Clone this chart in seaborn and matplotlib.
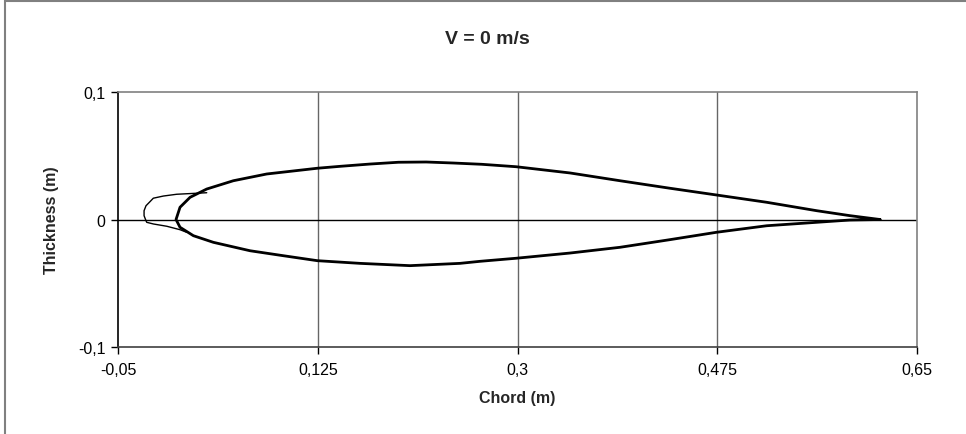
import numpy as np
import pandas as pd
import matplotlib
matplotlib.use("Agg")
import matplotlib.pyplot as plt
import seaborn as sns
from matplotlib.patches import Rectangle

# ==================================
# 1. Data
# ==================================

upper_x = [0.0008, 0.0043, 0.0131, 0.0277, 0.0510, 0.0803, 0.1246, 0.1445,
           0.1708, 0.1956, 0.2200, 0.2438, 0.2686, 0.2987, 0.3460, 0.3898,
           0.4336, 0.4745, 0.5183, 0.5621, 0.5913, 0.6176]
upper_y = [0.0, 0.0096, 0.0174, 0.0239, 0.0304, 0.0357, 0.0402, 0.0417,
           0.0435, 0.0449, 0.0451, 0.0443, 0.0433, 0.0414, 0.0365, 0.0304,
           0.0245, 0.0192, 0.0135, 0.0069, 0.0030, 0.0]

lower_x = [0.0008, 0.0043, 0.0160, 0.0335, 0.0656, 0.0948, 0.1246, 0.1620,
           0.2058, 0.2496, 0.2671, 0.2987, 0.3460, 0.3898, 0.4336, 0.4745,
           0.5183, 0.5621, 0.5913, 0.6176]
lower_y = [0.0, -0.0061, -0.0127, -0.0179, -0.0245, -0.0284, -0.0323, -0.0344,
           -0.0362, -0.0344, -0.0328, -0.0304, -0.0263, -0.0218, -0.0158, -0.0100,
           -0.0049, -0.0022, -0.0004, 0.0]

# thin leading-edge trace
nose_x = [0.0277, 0.0014, -0.0103, -0.0191, -0.0220, -0.0255, -0.0272, -0.0272,
          -0.0261, -0.0249, -0.0191, -0.0073, 0.0043, 0.0100]
nose_y = [0.0210, 0.0198, 0.0184, 0.0167, 0.0140, 0.0108, 0.0069, 0.0030,
          0.0004, -0.0022, -0.0035, -0.0053, -0.0080, -0.0100]

x_ticks = [-0.05, 0.125, 0.3, 0.475, 0.65]
x_tick_labels = ["-0,05", "0,125", "0,3", "0,475", "0,65"]
y_ticks = [-0.1, 0, 0.1]
y_tick_labels = ["-0,1", "0", "0,1"]

profile = pd.DataFrame({
    "chord": upper_x[::-1] + lower_x[1:],
    "thickness": upper_y[::-1] + lower_y[1:],
})
nose = pd.DataFrame({"chord": nose_x, "thickness": nose_y})

# ==================================
# 2. Plot
# ==================================

sns.set_style("white")
plt.rcParams["font.family"] = ["Liberation Sans", "DejaVu Sans"]

fig = plt.figure(figsize=(9.66, 4.35), dpi=100)
ax = fig.add_axes([0.1222, 0.2, 0.8271, 0.5862])

sns.lineplot(data=nose, x="chord", y="thickness", sort=False,
             estimator=None, color="black", linewidth=1.0, ax=ax)
sns.lineplot(data=profile, x="chord", y="thickness", sort=False,
             estimator=None, color="black", linewidth=2.0, ax=ax)

ax.set_xlim(-0.05, 0.65)
ax.set_ylim(-0.1, 0.1)
ax.set_xticks(x_ticks)
ax.set_xticklabels(x_tick_labels)
ax.set_yticks(y_ticks)
ax.set_yticklabels(y_tick_labels)

for xv in x_ticks[1:-1]:
    ax.axvline(xv, color="#666666", linewidth=1.0, zorder=0)
ax.axhline(0, color="black", linewidth=1.0, zorder=0)

ax.spines["left"].set_color("black")
ax.spines["bottom"].set_color("#404040")
ax.spines["top"].set_color("#808080")
ax.spines["right"].set_color("#808080")
for s in ax.spines.values():
    s.set_linewidth(1.2)

ax.tick_params(axis="both", direction="out", length=5, width=1,
               labelsize=11.5, colors="black", pad=4, left=True, bottom=True)
ax.tick_params(axis="x", pad=6)

ax.set_xlabel("Chord (m)", fontsize=11.5, fontweight="bold", labelpad=9)
ax.set_ylabel("Thickness (m)", fontsize=11.5, fontweight="bold", labelpad=14)

fig.text(0.505, 0.91, "V = 0 m/s", ha="center", va="center",
         fontsize=14, fontweight="bold")

# chart-area frame
fig.patches.append(Rectangle((0.005, -0.05), 1.2, 0.0454 + 1.0, transform=fig.transFigure,
                             fill=False, edgecolor="#808080", linewidth=1.5))

fig.savefig("out.png", dpi=100)
